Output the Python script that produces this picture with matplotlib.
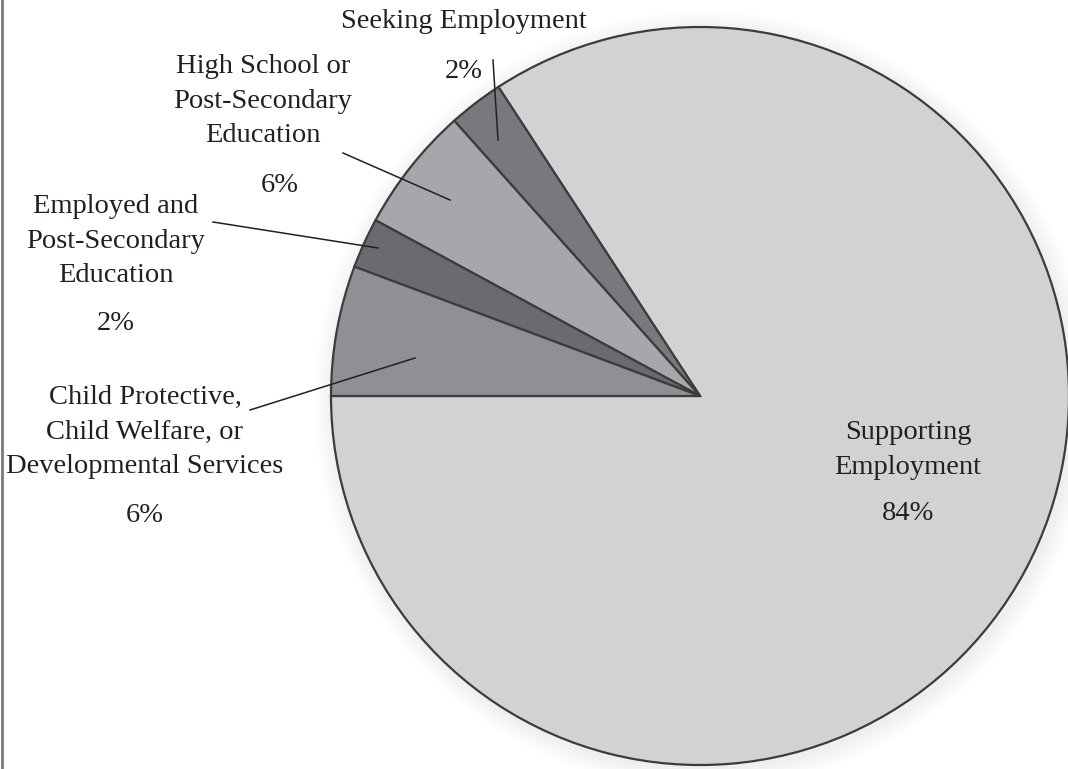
import numpy as np
import matplotlib
matplotlib.use("Agg")
import matplotlib.pyplot as plt
from matplotlib.patches import Circle

# slice data, in drawing order from 9 o'clock
names = ["Supporting\nEmployment", "Seeking Employment", "High School or\nPost-Secondary\nEducation",
         "Employed and\nPost-Secondary\nEducation", "Child Protective,\nChild Welfare, or\nDevelopmental Services"]
shares = [84.2, 2.4, 5.5, 2.2, 5.7]
pct_labels = ["84%", "2%", "6%", "2%", "6%"]
colors = ["#d1d2d4", "#78797c", "#a6a7aa", "#6a6b6e", "#8f9093"]

H = 769  # image height, used to flip y to y-up coords
cx, cy, rad = 700, H - 396, 369

fig = plt.figure(figsize=(10.68, 7.69), dpi=100)
ax = fig.add_axes([0, 0, 1, 1])

# soft shadow around the pie
for k in range(8):
    ax.add_patch(Circle((cx + 3, cy - 4), rad + 2 + k * 2.5, color="black", alpha=0.008, lw=0, zorder=0))

wedges, _ = ax.pie(shares, colors=colors, startangle=180, counterclock=True,
                   center=(cx, cy), radius=rad,
                   wedgeprops=dict(edgecolor="#3c3c3e", linewidth=1.6))
for w in wedges:
    w.set_zorder(2)
ax.set_xlim(0, 1068)
ax.set_ylim(0, H)
ax.set_aspect("equal")
ax.axis("off")

fnt = "Liberation Serif"
tc = "#231f20"
fs = 20.5

# label text positions (image pixel coords): name block centre, pct centre
name_pos = [(908, 450), (464, 22), (263, 101), (116, 241), (145, 432)]
pct_pos = [(908, 514), (464, 71), (280, 185), (116, 323), (145, 515)]
for nm, pc, (nx, ny), (px, py) in zip(names, pct_labels, name_pos, pct_pos):
    ax.text(nx, H - ny, nm, ha="center", va="center", fontsize=fs, family=fnt,
            color=tc, linespacing=1.5, zorder=5)
    ax.text(px, H - py, pc, ha="center", va="center", fontsize=fs, family=fnt,
            color=tc, zorder=5)

# leader lines (image pixel coords)
leaders = [((493, 60), (498, 140)), ((343, 153), (450, 200)),
           ((213, 222), (378, 248)), ((250, 410), (415, 358))]
for (x0, y0), (x1, y1) in leaders:
    ax.plot([x0, x1], [H - y0, H - y1], color=tc, lw=1.1, zorder=4)

# thin frame line on the left edge
ax.plot([2, 2], [0, H], color="#7a7a7a", lw=2, zorder=6)

fig.savefig("out.png", dpi=100)
